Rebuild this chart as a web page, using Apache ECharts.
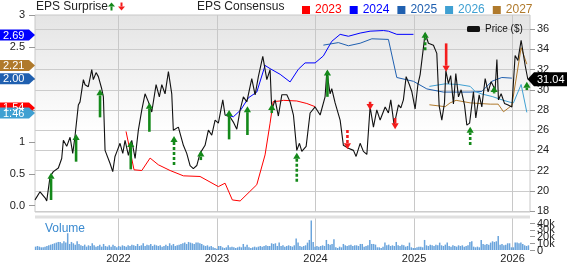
<!DOCTYPE html>
<html><head><meta charset="utf-8">
<script src="https://cdn.jsdelivr.net/npm/echarts@6/dist/echarts.min.js"></script>
<style>html,body{margin:0;padding:0;background:#fff}#c{width:568px;height:264px}</style>
</head><body><div id="c"></div>
<script>
const FONT = 'Liberation Sans, Arial, sans-serif';

// ---- tick labels ----
const yearTicks = [2022, 2023, 2024, 2025, 2026];
const epsTicks = [0, 0.5, 1, 1.5, 2, 2.5, 3];
const epsTickLabels = ['0.0', '0.5', '1', '1.5', '2.0', '2.5', '3'];
const priceTicks = [18, 20, 22, 24, 26, 28, 30, 32, 34, 36];
const volTicks = [0, 10, 20, 30, 40];
const volTickLabels = ['0', '10k', '20k', '30k', '40k'];

// ---- series: [decimal year, value] ----
const price = [
[2021.153,19.1],[2021.204,19.9],[2021.255,19.3],[2021.272,19.0],[2021.306,21.4],[2021.339,21.9],[2021.390,22.25],[2021.424,23.2],
[2021.441,25.0],[2021.475,24.4],[2021.509,25.3],[2021.536,23.7],[2021.559,25.4],[2021.593,28.5],[2021.610,28.8],[2021.644,31.0],
[2021.661,30.5],[2021.694,30.3],[2021.729,32.0],[2021.745,31.0],[2021.773,31.7],[2021.796,31.3],[2021.830,30.1],[2021.847,29.3],
[2021.864,24.0],[2021.915,22.7],[2021.942,21.9],[2021.965,23.4],[2021.989,24.0],[2022.016,24.7],[2022.044,23.7],[2022.067,25.0],
[2022.101,23.5],[2022.135,25.0],[2022.169,23.2],[2022.202,26.0],[2022.237,28.0],[2022.270,29.6],[2022.304,28.8],[2022.338,27.8],
[2022.382,30.5],[2022.415,29.3],[2022.440,30.5],[2022.473,29.6],[2022.507,31.8],[2022.541,29.6],[2022.557,26.0],[2022.608,26.3],
[2022.659,24.5],[2022.693,23.7],[2022.727,22.5],[2022.760,22.2],[2022.795,22.5],[2022.828,23.7],[2022.879,24.5],[2022.913,26.0],
[2022.947,25.5],[2022.981,27.0],[2023.014,26.7],[2023.059,29.0],[2023.082,27.5],[2023.133,27.3],[2023.166,26.8],[2023.201,26.1],
[2023.235,28.0],[2023.268,29.3],[2023.303,28.8],[2023.353,31.1],[2023.387,29.5],[2023.420,31.3],[2023.465,33.3],[2023.506,31.0],
[2023.539,32.0],[2023.556,28.0],[2023.590,29.0],[2023.623,27.4],[2023.658,29.5],[2023.709,29.5],[2023.742,28.8],[2023.776,27.5],
[2023.810,24.0],[2023.837,24.7],[2023.861,23.9],[2023.905,24.4],[2023.945,27.7],[2023.996,28.3],[2024.047,27.5],[2024.097,29.3],
[2024.115,31.8],[2024.148,29.6],[2024.165,30.1],[2024.199,28.7],[2024.250,27.0],[2024.283,24.5],[2024.334,24.2],[2024.385,24.0],
[2024.412,23.4],[2024.453,24.7],[2024.486,23.9],[2024.521,23.6],[2024.554,28.3],[2024.588,26.3],[2024.622,28.0],[2024.656,27.0],
[2024.707,28.3],[2024.740,27.7],[2024.764,29.0],[2024.798,26.5],[2024.842,28.5],[2024.866,28.2],[2024.892,29.0],[2024.920,31.3],
[2024.953,30.5],[2024.978,29.8],[2025.011,28.1],[2025.039,30.5],[2025.062,31.5],[2025.082,31.6],[2025.113,35.6],[2025.146,34.6],
[2025.197,34.4],[2025.231,33.6],[2025.255,28.4],[2025.282,27.0],[2025.309,28.7],[2025.323,31.9],[2025.349,30.6],[2025.372,31.4],
[2025.400,28.6],[2025.424,31.6],[2025.451,29.3],[2025.478,30.0],[2025.512,28.5],[2025.536,26.5],[2025.564,26.7],[2025.603,29.8],
[2025.627,27.2],[2025.661,29.5],[2025.688,28.3],[2025.722,31.1],[2025.752,29.8],[2025.783,30.8],[2025.823,30.0],[2025.841,33.0],
[2025.857,29.0],[2025.884,29.6],[2025.918,28.65],[2025.955,28.5],[2025.993,28.3],[2026.026,33.4],[2026.054,32.9],[2026.087,34.9],
[2026.128,32.4],[2026.155,31.04]
];
const eps2023 = [[2022.077,1.17],[2022.158,0.565],[2022.237,0.554],[2022.321,0.75],[2022.405,0.644],[2022.524,0.554],[2022.659,0.47],
[2022.828,0.46],[2023.014,0.30],[2023.082,0.354],[2023.156,0.09],[2023.235,0.074],[2023.404,0.33],[2023.488,0.80],[2023.539,1.30],
[2023.570,1.64],[2023.641,1.65],[2023.674,1.66],[2023.810,1.65],[2023.912,1.61],[2023.996,1.56]];
const eps2024 = [[2023.092,1.435],[2023.166,1.40],[2023.242,1.51],[2023.319,1.70],[2023.404,1.79],[2023.488,2.21],[2023.539,2.16],
[2023.641,2.07],[2023.742,1.95],[2023.826,2.15],[2023.894,2.25],[2023.996,2.25],[2024.080,2.36],[2024.165,2.59],[2024.250,2.70],
[2024.334,2.67],[2024.453,2.72],[2024.554,2.75],[2024.689,2.76],[2024.740,2.75],[2024.825,2.70],[2024.994,2.70]];
const eps2025 = [[2024.080,2.53],[2024.232,2.57],[2024.334,2.52],[2024.453,2.56],[2024.572,2.63],[2024.740,2.62],[2024.825,2.02],
[2024.994,1.96],[2025.130,1.84],[2025.298,1.79],[2025.434,1.79],[2025.570,1.79],[2025.688,1.80],[2025.790,1.96],[2025.891,2.02],
[2025.993,2.01]];
const eps2026 = [[2025.156,1.88],[2025.316,1.92],[2025.451,1.91],[2025.570,1.88],[2025.620,1.80],[2025.688,1.76],[2025.793,1.72],
[2025.908,1.66],[2025.975,1.63],[2026.009,1.62],[2026.087,1.91],[2026.145,1.47]];
const eps2027 = [[2025.156,1.59],[2025.316,1.56],[2025.366,1.62],[2025.427,1.66],[2025.570,1.62],[2025.773,1.60],[2025.854,1.60],
[2025.908,1.48],[2025.993,1.58],[2026.087,2.49],[2026.145,2.23]];

// EPS surprise arrows: [year, head price, tail price, direction (1 up / -1 down), dashed (1) ]
const surprises = [
[2021.316,21.79,19.09,1,0],[2021.570,25.62,22.88,1,0],[2021.813,30.04,27.27,1,0],[2022.125,24.92,22.12,1,0],
[2022.314,28.71,25.84,1,0],[2022.564,25.42,22.55,1,1],[2022.836,23.98,23.04,1,0],[2023.123,27.99,25.09,1,0],
[2023.309,28.38,25.52,1,0],[2023.556,28.58,27.69,1,0],[2023.810,23.77,20.90,1,1],[2024.121,32.01,29.30,1,0],
[2024.324,24.10,26.01,-1,1],[2024.554,27.99,28.81,-1,1],[2024.808,26.08,27.20,-1,0],[2025.113,35.73,33.92,1,1],
[2025.326,31.78,34.59,-1,0],[2025.570,26.34,24.53,1,1],[2025.813,30.36,29.64,1,0],[2026.145,30.79,29.97,1,0]
];

// weekly volume (thousands), first week starting at volStart
const volStart = 2021.159;
const volume = [
5,6,5,4,4,5,6, 7,8,9,10,11,12,12,10,13,11, 25, 9,12,10,8,13,9,7,
6,8,5,7,6,10,7,5,6,8,5,9,6,5,7,5,8,6,4,
6,5,7,6,5,7,6,8, 7,6,9,6,7,10,6,8, 7,9,6,8,7,6,7,5, 6,8,6,10,7,9,6,7,
8,9,10,11,9,12,11,10,9,11, 11,10,9,7,6,7,5,6,4,3,
2,6,6,4,3,4, 7, 4,5,4,3,4,5,4, 9,5,8, 4,3,4,5,4, 5,6,5,6,7,6,6, 10,9,10, 6,11,
6,7,5,6,7,6,5,7, 17,11, 6,5,6, 7,11,15,44,12,
5,6,5, 6,7,6, 15, 9,8,9, 16, 4,3,5,4, 9, 7,6,7,8,6,7,7,6, 9,9, 5,6,7, 15, 9,9,8,
4,4,3,5, 11, 7,8,6,7,6, 12, 7,6,8,7,5,6, 11, 4,
3,3,4,5, 5,4, 15, 7,6,8,7,6,8,7, 11, 7,6,8, 11, 6,5,7,6,5,7,6,7,5,6,7, 12,13,
5,4,5,4, 15, 9,8,9,8, 11,13,12, 13, 21, 8,9,7,8, 10,10, 4,
4, 11,11,10,11,9, 7,6,7
];

const years = ['2023', '2024', '2025', '2026', '2027'];
const yearColors = ['#ff0000', '#0000ff', '#2060b0', '#3fa0d2', '#b07a2c'];
const epsSeries = [eps2023, eps2024, eps2025, eps2026, eps2027];
// consensus badges: [series index, value, text]
const badges = [[0, 1.54, '1.54'], [1, 2.69, '2.69'], [4, 2.21, '2.21'], [2, 2.00, '2.00'], [3, 1.46, '1.46']];
const lastPrice = 31.04;

const volData = volume.map((v, i) => [volStart + i * 7 / 365.25, v]);

const chart = echarts.init(document.getElementById('c'), null, { renderer: 'canvas' });

const xCommon = {
  type: 'value', min: 2021.153, max: 2026.177,
  axisLine: { show: false },
  axisTick: { show: false, customValues: yearTicks },
  splitLine: { show: true, lineStyle: { color: '#c8c8c8', width: 1 } }
};

const option = {
  animation: false,
  textStyle: { fontFamily: FONT },
  grid: [
    { left: 35, right: 38, top: 15, height: 197, show: true, borderColor: '#c8c8c8', borderWidth: 1,
      backgroundColor: new echarts.graphic.LinearGradient(0, 0, 0, 1, [
        { offset: 0, color: '#e4e4e4' }, { offset: 0.6, color: '#ffffff' }, { offset: 1, color: '#ffffff' }]) },
    { left: 35, right: 38, top: 216, height: 36.5, show: false }
  ],
  legend: [
    { data: years.map((y, i) => ({ name: y, textStyle: { color: yearColors[i] } })),
      left: 297, top: -1, icon: 'rect', itemWidth: 8, itemHeight: 8, itemGap: 8, selectedMode: false,
      textStyle: { fontSize: 12, fontFamily: FONT } },
    { data: ['Price ($)'], left: 462, top: 19, icon: 'roundRect', itemWidth: 13, itemHeight: 6, selectedMode: false,
      textStyle: { fontSize: 10, fontFamily: FONT, color: '#111' } }
  ],
  xAxis: [
    Object.assign({ gridIndex: 0, axisLabel: { show: false, customValues: yearTicks } }, xCommon),
    Object.assign({ gridIndex: 1, axisLabel: { show: true, customValues: yearTicks, fontSize: 11, color: '#222', margin: 3,
      formatter: v => String(Math.round(v)) } }, xCommon)
  ],
  yAxis: [
    { gridIndex: 0, type: 'value', position: 'left', min: -0.1, max: 3.005,
      axisLine: { show: false },
      axisTick: { show: true, length: 6, lineStyle: { color: '#999' }, customValues: epsTicks },
      axisLabel: { customValues: epsTicks, fontSize: 11, color: '#222', margin: 10,
        formatter: v => epsTickLabels[epsTicks.indexOf(Math.round(v * 2) / 2)] },
      splitLine: { show: false } },
    { gridIndex: 0, type: 'value', position: 'right', min: 17.9, max: 37.4,
      axisLine: { show: false },
      axisTick: { show: true, length: 5, lineStyle: { color: '#999' }, customValues: priceTicks },
      axisLabel: { customValues: priceTicks, fontSize: 11, color: '#222', margin: 7 },
      splitLine: { show: true, lineStyle: { color: '#cccccc' } } },
    { gridIndex: 1, type: 'value', position: 'right', min: 0, max: 50.7,
      axisLine: { show: false },
      axisTick: { show: true, length: 5, lineStyle: { color: '#999' }, customValues: volTicks },
      axisLabel: { show: false, customValues: volTicks },
      splitLine: { show: false } }
  ],
  series: [
    ...epsSeries.map((d, i) => ({
      name: years[i], type: 'line', xAxisIndex: 0, yAxisIndex: 0, data: d, showSymbol: false, symbol: 'none',
      lineStyle: { color: yearColors[i], width: 1 }, itemStyle: { color: yearColors[i] }, z: 2, silent: true
    })),
    { name: 'Price ($)', type: 'line', xAxisIndex: 0, yAxisIndex: 1, data: price, symbol: 'none', showSymbol: false,
      lineStyle: { color: '#111', width: 1.1 }, itemStyle: { color: '#111' }, z: 3, silent: true },
    { type: 'custom', xAxisIndex: 0, yAxisIndex: 1, data: surprises, z: 5, silent: true,
      encode: { x: 0, y: 1 },
      renderItem: function (params, api) {
        const x = api.value(0), head = api.value(1), tail = api.value(2), dir = api.value(3), dashed = api.value(4);
        const ph = api.coord([x, head]);
        const pt = api.coord([x, tail]);
        const color = dir > 0 ? '#14891a' : '#f41c1c';
        const hh = 6, hw = 3.6;
        const baseY = ph[1] + (dir > 0 ? hh : -hh);
        const children = [];
        if ((dir > 0 && pt[1] > baseY) || (dir < 0 && pt[1] < baseY)) {
          children.push({ type: 'line', shape: { x1: pt[0], y1: pt[1], x2: pt[0], y2: baseY },
            style: { stroke: color, lineWidth: 2.6, lineDash: dashed ? [3, 2] : null } });
        }
        children.push({ type: 'polygon', shape: { points: [[ph[0], ph[1]], [ph[0] - hw, baseY], [ph[0] + hw, baseY]] },
          style: { fill: color } });
        return { type: 'group', children: children };
      }
    },
    { name: 'Volume', type: 'bar', xAxisIndex: 1, yAxisIndex: 2, data: volData, barWidth: 1.5,
      itemStyle: { color: '#6aa4dc' }, silent: true }
  ]
};
chart.setOption(option);

// ---- badges & decorations (positions from the library's scales) ----
const g = [];
// band above the volume panel
g.push({ type: 'rect', shape: { x: 35, y: 215.5, width: 495, height: 3 }, style: { fill: '#e0e0e0' }, z: 1 });
// header texts
g.push({ type: 'text', x: 36, y: 6.5, style: { text: 'EPS Surprise', font: '12px ' + FONT, fill: '#222', verticalAlign: 'middle' } });
g.push({ type: 'polygon', shape: { points: [[111.5, 2.5], [108, 6.5], [115, 6.5]] }, style: { fill: '#14891a' } });
g.push({ type: 'rect', shape: { x: 110.5, y: 6.5, width: 2, height: 4 }, style: { fill: '#14891a' } });
g.push({ type: 'rect', shape: { x: 120.5, y: 2.5, width: 2, height: 4 }, style: { fill: '#f41c1c' } });
g.push({ type: 'polygon', shape: { points: [[121.5, 10.5], [118, 6.5], [125, 6.5]] }, style: { fill: '#f41c1c' } });
g.push({ type: 'text', x: 197, y: 6.5, style: { text: 'EPS Consensus', font: '12px ' + FONT, fill: '#222', verticalAlign: 'middle' } });
g.push({ type: 'text', x: 45, y: 229, style: { text: 'Volume', font: '12px ' + FONT, fill: '#3a8ad0', verticalAlign: 'middle' } });

// volume axis labels (overlapping, as in the original)
volTicks.forEach((v, i) => {
  const y = chart.convertToPixel({ yAxisIndex: 2 }, v);
  g.push({ type: 'text', x: 537, y: y + 0.5, style: { text: volTickLabels[i], font: '11px ' + FONT, fill: '#222', verticalAlign: 'middle' } });
});

badges.forEach(([si, v, t]) => {
  const y = chart.convertToPixel({ yAxisIndex: 0 }, v);
  g.push({ type: 'polygon', shape: { points: [[0, y - 5.5], [29, y - 5.5], [35, y], [29, y + 5.5], [0, y + 5.5]] },
    style: { fill: yearColors[si] }, z: 10 });
  g.push({ type: 'text', x: 3, y: y + 0.5, style: { text: t, font: '11px ' + FONT, fill: '#fff', verticalAlign: 'middle' }, z: 11 });
});
const py = chart.convertToPixel({ yAxisIndex: 1 }, lastPrice);
g.push({ type: 'polygon', shape: { points: [[527.5, py], [534, py - 7], [567, py - 7], [567, py + 7], [534, py + 7]] },
  style: { fill: '#000' }, z: 10 });
g.push({ type: 'text', x: 537, y: py + 0.5, style: { text: lastPrice.toFixed(2), font: '11px ' + FONT, fill: '#fff', verticalAlign: 'middle' }, z: 11 });

chart.setOption({ graphic: g.map((e, i) => Object.assign({ id: 'g' + i }, e)) });
</script></body></html>
